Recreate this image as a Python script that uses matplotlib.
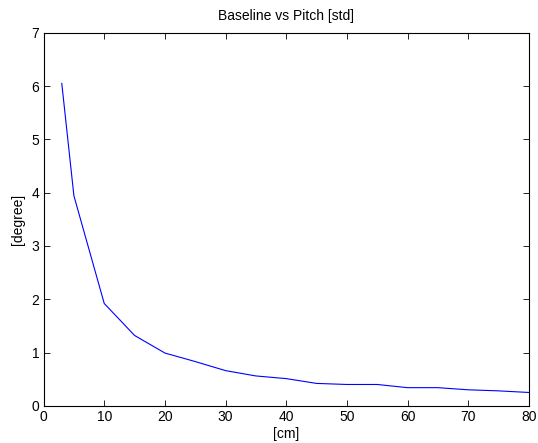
import matplotlib
matplotlib.use('Agg')
import matplotlib.pyplot as plt

plt.rcParams['font.family'] = ['Liberation Sans', 'DejaVu Sans']
plt.rcParams['font.size'] = 10

baseline = [3, 5, 10, 15, 20, 25, 30, 35, 40, 45, 50, 55, 60, 65, 70, 75, 80]
pitch_std = [6.05, 3.94, 1.92, 1.32, 0.99, 0.83, 0.66, 0.56, 0.51, 0.42, 0.40, 0.40,
             0.34, 0.34, 0.30, 0.28, 0.25]

fig = plt.figure(figsize=(5.38, 4.43), dpi=100)
ax = fig.add_axes([0.081, 0.084, 0.902, 0.842])
ax.plot(baseline, pitch_std, color='blue', linewidth=0.8)
ax.set_xlim(0, 80)
ax.set_ylim(0, 7)
ax.set_xticks(range(0, 81, 10))
ax.set_yticks(range(0, 8))
ax.tick_params(direction='in', top=True, right=True, length=4, width=0.6, pad=3)
for s in ax.spines.values():
    s.set_linewidth(0.8)
ax.set_title('Baseline vs Pitch [std]', fontsize=10, pad=9)
ax.set_xlabel('[cm]', labelpad=2)
ax.set_ylabel('[degree]', labelpad=5)

fig.savefig('out.png', dpi=100)
